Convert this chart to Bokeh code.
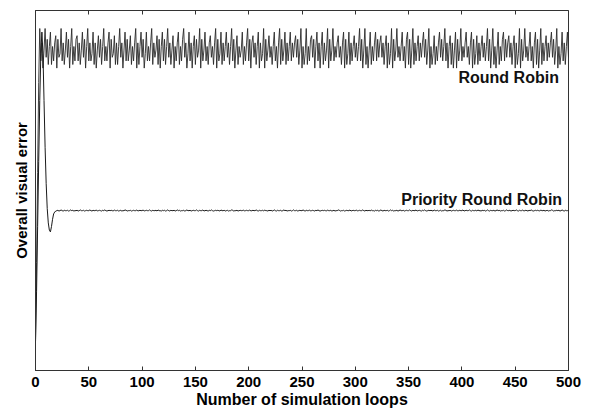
from bokeh.plotting import figure
from bokeh.models import Range1d, LinearAxis, FixedTicker, Label
from bokeh.embed import file_html
from bokeh.resources import INLINE

round_robin = [
    8, 30, 55, 80, 95,
    86, 91, 84, 89, 95, 87, 92, 85, 90, 94,
    85, 90, 86, 91, 93, 84, 92, 87, 88, 95,
    86, 91, 85, 89, 94, 87, 92, 84, 90, 95,
    85, 90, 86, 92, 93, 86, 91, 85, 89, 94,
    87, 92, 84, 90, 95, 86, 91, 86, 88, 94,
    85, 91, 84, 89, 93, 87, 92, 85, 90, 95,
    86, 90, 86, 91, 94, 84, 92, 87, 88, 93,
    85, 91, 85, 90, 95, 87, 91, 84, 89, 94,
    86, 92, 86, 89, 93, 85, 90, 86, 91, 95,
    84, 91, 85, 90, 94, 87, 92, 84, 88, 94,
    86, 90, 86, 91, 95, 85, 91, 87, 89, 93,
    85, 92, 84, 90, 94, 86, 92, 85, 90, 95,
    87, 91, 85, 89, 93, 84, 90, 86, 91, 94,
    85, 90, 86, 92, 95, 87, 91, 84, 88, 94,
    86, 91, 84, 90, 93, 85, 92, 87, 89, 95,
    84, 92, 86, 89, 94, 86, 90, 85, 91, 93,
    87, 90, 85, 91, 95, 84, 92, 86, 88, 94,
    85, 91, 86, 90, 94, 87, 91, 85, 90, 95,
    86, 92, 84, 89, 93, 85, 90, 87, 89, 94,
    85, 90, 86, 91, 95, 86, 92, 84, 91, 93,
    87, 91, 85, 90, 94, 84, 91, 86, 88, 95,
    84, 92, 86, 89, 93, 87, 90, 85, 90, 94,
    86, 90, 84, 91, 95, 85, 92, 86, 89, 94,
    85, 91, 86, 90, 94, 86, 91, 87, 91, 93,
    87, 92, 85, 89, 95, 84, 90, 85, 88, 95,
    85, 90, 86, 92, 93, 87, 92, 84, 90, 94,
    86, 91, 84, 90, 94, 85, 91, 86, 89, 95,
    84, 92, 86, 89, 95, 86, 90, 87, 91, 93,
    87, 90, 85, 91, 94, 84, 92, 85, 88, 94,
    85, 91, 86, 90, 93, 87, 91, 86, 90, 95,
    86, 92, 84, 89, 95, 85, 90, 84, 89, 94,
    85, 90, 86, 91, 94, 86, 92, 87, 91, 93,
    87, 91, 85, 90, 93, 84, 91, 85, 88, 95,
    84, 92, 86, 89, 95, 87, 90, 86, 90, 94,
    86, 90, 84, 92, 94, 85, 92, 84, 89, 95,
    85, 91, 86, 90, 93, 86, 91, 87, 91, 94,
    87, 92, 85, 89, 95, 84, 90, 85, 88, 93,
    85, 90, 86, 91, 94, 87, 92, 86, 90, 95,
    86, 91, 84, 90, 93, 85, 91, 84, 89, 94,
    84, 92, 86, 89, 95, 86, 90, 87, 91, 94,
    87, 90, 85, 91, 94, 84, 92, 85, 88, 93,
    85, 91, 86, 90, 93, 87, 91, 86, 90, 95,
    86, 92, 84, 89, 95, 85, 90, 84, 89, 94,
    85, 90, 86, 92, 94, 86, 92, 87, 91, 93,
    87, 91, 85, 90, 93, 84, 91, 85, 88, 95,
    84, 92, 86, 89, 95, 87, 90, 86, 90, 94,
    86, 90, 84, 91, 94, 85, 92, 84, 89, 95,
    85, 91, 86, 90, 93, 86, 91, 87, 91, 94,
    87, 92, 85, 89, 95, 84, 90, 85, 88, 94,
    86, 91, 85, 90, 94, 87, 92, 84, 89, 95,
    85, 90, 86, 91, 93, 86, 92, 85, 90, 94,
    87, 91, 84, 90, 95, 85, 91, 86, 88, 94,
]

priority_rr = [
    8, 22, 40, 58, 75, 88, 94, 88, 75, 62, 52, 45, 41, 39, 38.5, 40, 42, 43.5, 44, 44.3,
    44.4, 44.5, 44.3, 44.4, 44.6, 44.4, 44.3, 44.5, 44.4, 44.4,
    44.5, 44.3, 44.4, 44.6, 44.4, 44.5, 44.3, 44.4, 44.4, 44.5,
    44.3, 44.4, 44.6, 44.4, 44.4, 44.5, 44.3, 44.4, 44.5, 44.4,
    44.4, 44.6, 44.4, 44.3, 44.5, 44.4, 44.4, 44.6, 44.3, 44.4,
    44.5, 44.4, 44.3, 44.5, 44.4, 44.6, 44.4, 44.3, 44.4, 44.5,
    44.4, 44.5, 44.4, 44.3, 44.6, 44.4, 44.4, 44.5, 44.3, 44.4,
    44.5, 44.3, 44.4, 44.4, 44.6, 44.5, 44.3, 44.4, 44.4, 44.5,
    44.3, 44.4, 44.5, 44.4, 44.4, 44.6, 44.3, 44.4, 44.5, 44.4,
    44.4, 44.6, 44.3, 44.4, 44.5, 44.4, 44.4, 44.6, 44.4, 44.3,
    44.5, 44.4, 44.4, 44.5, 44.3, 44.6, 44.4, 44.4, 44.3, 44.5,
    44.4, 44.5, 44.3, 44.4, 44.6, 44.4, 44.3, 44.5, 44.4, 44.4,
    44.5, 44.3, 44.4, 44.6, 44.4, 44.5, 44.3, 44.4, 44.4, 44.5,
    44.3, 44.4, 44.6, 44.4, 44.4, 44.5, 44.3, 44.4, 44.5, 44.4,
    44.4, 44.6, 44.4, 44.3, 44.5, 44.4, 44.4, 44.6, 44.3, 44.4,
    44.5, 44.4, 44.3, 44.5, 44.4, 44.6, 44.4, 44.3, 44.4, 44.5,
    44.4, 44.5, 44.4, 44.3, 44.6, 44.4, 44.4, 44.5, 44.3, 44.4,
    44.5, 44.3, 44.4, 44.4, 44.6, 44.5, 44.3, 44.4, 44.4, 44.5,
    44.3, 44.4, 44.5, 44.4, 44.4, 44.6, 44.3, 44.4, 44.5, 44.4,
    44.4, 44.6, 44.3, 44.4, 44.5, 44.4, 44.4, 44.6, 44.4, 44.3,
    44.5, 44.4, 44.4, 44.5, 44.3, 44.6, 44.4, 44.4, 44.3, 44.5,
    44.4, 44.5, 44.3, 44.4, 44.6, 44.4, 44.3, 44.5, 44.4, 44.4,
    44.5, 44.3, 44.4, 44.6, 44.4, 44.5, 44.3, 44.4, 44.4, 44.5,
    44.3, 44.4, 44.6, 44.4, 44.4, 44.5, 44.3, 44.4, 44.5, 44.4,
    44.4, 44.6, 44.4, 44.3, 44.5, 44.4, 44.4, 44.6, 44.3, 44.4,
    44.5, 44.4, 44.3, 44.5, 44.4, 44.6, 44.4, 44.3, 44.4, 44.5,
    44.4, 44.5, 44.4, 44.3, 44.6, 44.4, 44.4, 44.5, 44.3, 44.4,
    44.5, 44.3, 44.4, 44.4, 44.6, 44.5, 44.3, 44.4, 44.4, 44.5,
    44.3, 44.4, 44.5, 44.4, 44.4, 44.6, 44.3, 44.4, 44.5, 44.4,
    44.4, 44.6, 44.3, 44.4, 44.5, 44.4, 44.4, 44.6, 44.4, 44.3,
    44.5, 44.4, 44.4, 44.5, 44.3, 44.6, 44.4, 44.4, 44.3, 44.5,
    44.4, 44.5, 44.3, 44.4, 44.6, 44.4, 44.3, 44.5, 44.4, 44.4,
    44.5, 44.3, 44.4, 44.6, 44.4, 44.5, 44.3, 44.4, 44.4, 44.5,
    44.3, 44.4, 44.6, 44.4, 44.4, 44.5, 44.3, 44.4, 44.5, 44.4,
    44.4, 44.6, 44.4, 44.3, 44.5, 44.4, 44.4, 44.6, 44.3, 44.4,
    44.5, 44.4, 44.3, 44.5, 44.4, 44.6, 44.4, 44.3, 44.4, 44.5,
    44.4, 44.5, 44.4, 44.3, 44.6, 44.4, 44.4, 44.5, 44.3, 44.4,
    44.5, 44.3, 44.4, 44.4, 44.6, 44.5, 44.3, 44.4, 44.4, 44.5,
    44.3, 44.4, 44.5, 44.4, 44.4, 44.6, 44.3, 44.4, 44.5, 44.4,
    44.4, 44.6, 44.3, 44.4, 44.5, 44.4, 44.4, 44.6, 44.4, 44.3,
    44.5, 44.4, 44.4, 44.5, 44.3, 44.6, 44.4, 44.4, 44.3, 44.5,
    44.4, 44.5, 44.3, 44.4, 44.6, 44.4, 44.3, 44.5, 44.4, 44.4,
    44.5, 44.3, 44.4, 44.6, 44.4, 44.5, 44.3, 44.4, 44.4, 44.5,
    44.3, 44.4, 44.6, 44.4, 44.4, 44.5, 44.3, 44.4, 44.5, 44.4,
    44.4, 44.6, 44.4, 44.3, 44.5, 44.4, 44.4, 44.6, 44.3, 44.4,
    44.5, 44.4, 44.3, 44.5, 44.4, 44.6, 44.4, 44.3, 44.4, 44.5,
    44.4, 44.5, 44.4, 44.3, 44.6, 44.4, 44.4, 44.5, 44.3, 44.4,
    44.5, 44.3, 44.4, 44.4, 44.6, 44.5, 44.3, 44.4, 44.4, 44.5,
    44.4, 44.5, 44.3, 44.4, 44.6, 44.4, 44.3, 44.5, 44.4, 44.4,
    44.5, 44.3, 44.4, 44.6, 44.4, 44.5, 44.3, 44.4, 44.4, 44.5,
    44.4,
]

rr_loops = list(range(len(round_robin)))
prr_loops = list(range(len(priority_rr)))

x_ticks = [0, 50, 100, 150, 200, 250, 300, 350, 400, 450, 500]
x_label = "Number of simulation loops"
y_label = "Overall visual error"
label_rr = "Round Robin"
label_prr = "Priority Round Robin"

FONT = "Liberation Sans"

p = figure(width=592, height=413, output_backend="svg", toolbar_location=None,
           x_range=Range1d(0, 500), y_range=Range1d(0, 100))
p.min_border_left = 35
p.min_border_right = 24
p.min_border_top = 10
p.min_border_bottom = 43
p.background_fill_color = "white"
p.border_fill_color = "white"
p.outline_line_color = "#333333"
p.outline_line_width = 1
p.xgrid.visible = False
p.ygrid.visible = False

p.line(rr_loops, round_robin, line_color="#2a2a2a", line_width=0.9)
p.line(prr_loops, priority_rr, line_color="#1a1a1a", line_width=1)

xa = p.xaxis[0]
xa.ticker = FixedTicker(ticks=x_ticks)
xa.major_tick_in = 4
xa.major_tick_out = 0
xa.minor_tick_in = 0
xa.minor_tick_out = 0
xa.axis_line_color = "#333333"
xa.major_tick_line_color = "#333333"
xa.major_label_text_font = FONT
xa.major_label_text_font_style = "bold"
xa.major_label_text_font_size = "15px"
xa.major_label_text_color = "black"
xa.major_label_standoff = 6
xa.axis_label = x_label
xa.axis_label_text_font = FONT
xa.axis_label_text_font_style = "bold"
xa.axis_label_text_font_size = "16px"
xa.axis_label_text_color = "black"
xa.axis_label_standoff = 1

ya = p.yaxis[0]
ya.ticker = FixedTicker(ticks=[])
ya.major_tick_in = 0
ya.major_tick_out = 0
ya.minor_tick_in = 0
ya.minor_tick_out = 0
ya.axis_line_color = "#333333"
ya.major_label_standoff = 0
ya.axis_label = y_label
ya.axis_label_text_font = FONT
ya.axis_label_text_font_style = "bold"
ya.axis_label_text_font_size = "15px"
ya.axis_label_text_color = "black"
ya.axis_label_standoff = 6

top = LinearAxis(ticker=FixedTicker(ticks=x_ticks))
top.major_tick_in = 4
top.major_tick_out = 0
top.minor_tick_in = 0
top.minor_tick_out = 0
top.axis_line_color = None
top.major_tick_line_color = "#333333"
top.major_label_overrides = {t: "" for t in x_ticks}
top.major_label_standoff = 0
p.add_layout(top, "above")

p.add_layout(Label(x=491, y=81.4, text=label_rr, text_align="right",
                   text_baseline="middle", text_font=FONT, text_font_style="bold",
                   text_font_size="16px", text_color="#111111"))
p.add_layout(Label(x=494, y=47.6, text=label_prr, text_align="right",
                   text_baseline="middle", text_font=FONT, text_font_style="bold",
                   text_font_size="16px", text_color="#111111"))

open("out.html", "w").write(file_html(p, INLINE))
